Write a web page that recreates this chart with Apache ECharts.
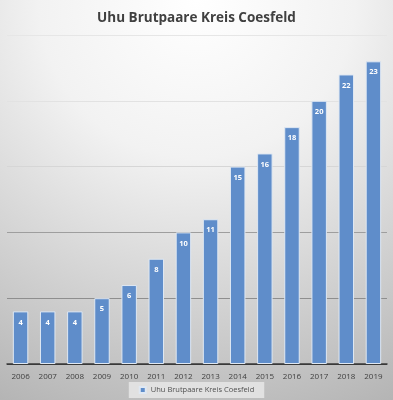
<!DOCTYPE html>
<html><head><meta charset="utf-8">
<script src="https://cdn.jsdelivr.net/npm/echarts@6/dist/echarts.min.js"></script>
<style>html,body{margin:0;padding:0;}#c{width:393px;height:400px;}</style>
</head><body><div id="c"></div>
<script>
var years = ['2006','2007','2008','2009','2010','2011','2012','2013','2014','2015','2016','2017','2018','2019'];
var values = [4,4,4,5,6,8,10,11,15,16,18,20,22,23];
var seriesName = 'Uhu Brutpaare Kreis Coesfeld';
var titleText = 'Uhu Brutpaare Kreis Coesfeld';

var chart = echarts.init(document.getElementById('c'), null, {renderer:'canvas'});
chart.setOption({
  animation: false,
  backgroundColor: new echarts.graphic.RadialGradient(0.5, 0.0, 1.15, [
    {offset:0, color:'#ffffff'},
    {offset:0.35, color:'#f2f2f2'},
    {offset:1, color:'#b3b3b3'}
  ]),
  title: {
    text: titleText, left: 'center', top: 6,
    textStyle: {fontFamily:'Open Sans', fontWeight:'bold', fontSize:13.5, color:'#404040'}
  },
  legend: {
    bottom: 2, left: 'center', itemWidth: 6, itemHeight: 6, itemGap: 4,
    padding: [4, 10, 4, 10],
    backgroundColor: 'rgba(228,228,228,0.9)',
    icon: 'rect',
    textStyle: {fontFamily:'Open Sans', fontSize:7.5, color:'#505050'},
    data: [{name: seriesName, icon: 'rect'}]
  },
  grid: {left: 7, right: 6, top: 35, bottom: 36, containLabel: false},
  xAxis: {
    type: 'category', data: years,
    axisLine: {lineStyle:{color:'#3a3a3a', width:1.5}},
    axisTick: {show:false},
    axisLabel: {fontFamily:'Open Sans', fontSize:8, color:'#404040', margin:9}
  },
  yAxis: {
    type: 'value', min: 0, max: 25, interval: 5,
    axisLabel: {show:false}, axisLine:{show:false}, axisTick:{show:false},
    splitLine: {lineStyle:{color:['#3a3a3a','#8e8e8e','#9e9e9e','#d6d6d6','#e2e2e2','#e6e6e6'], width:1.2}}
  },
  series: [{
    name: seriesName, type: 'bar', data: values, barWidth: '57%',
    itemStyle: {color:'#5f8dca', borderColor:'#dfe8f3', borderWidth:1},
    label: {show:true, position:'insideTop', distance:7, color:'#ffffff',
      fontFamily:'Open Sans', fontWeight:'bold', fontSize:7.5}
  }]
});
</script></body></html>
